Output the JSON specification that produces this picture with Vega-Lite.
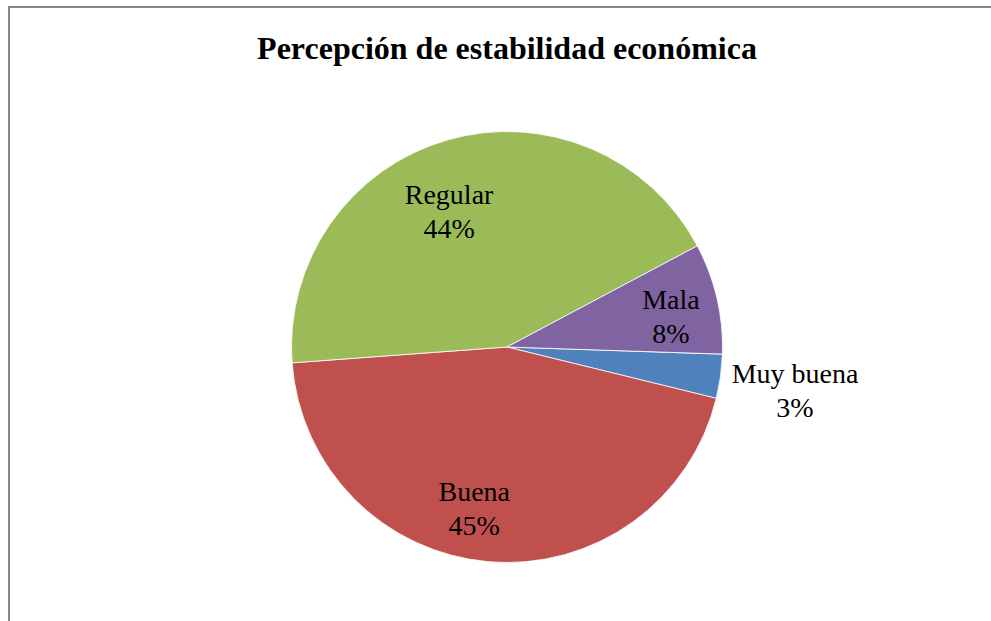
{
  "$schema": "https://vega.github.io/schema/vega-lite/v6.json",
  "width": 996,
  "height": 680,
  "autosize": {"type": "none"},
  "padding": {"left": 9, "top": 7, "right": -14, "bottom": -66},
  "background": "white",
  "view": {"stroke": "#878787", "strokeWidth": 2},
  "title": {
    "text": "Percepción de estabilidad económica",
    "font": "Liberation Serif",
    "fontSize": 32,
    "fontWeight": "bold",
    "color": "black",
    "anchor": "middle",
    "frame": "group",
    "baseline": "alphabetic",
    "offset": -84
  },
  "data": {
    "values": [
      {"categoria": "Muy buena", "porcentaje": 3.3, "etiqueta": "Muy buena\n3%", "orden": 1},
      {"categoria": "Buena", "porcentaje": 45.0, "etiqueta": "Buena\n45%", "orden": 2},
      {"categoria": "Regular", "porcentaje": 43.4, "etiqueta": "Regular\n44%", "orden": 3},
      {"categoria": "Mala", "porcentaje": 8.3, "etiqueta": "Mala\n8%", "orden": 4}
    ]
  },
  "encoding": {
    "theta": {"field": "porcentaje", "type": "quantitative", "stack": true, "scale": {"range": [1.604, 7.887]}},
    "order": {"field": "orden", "type": "quantitative"}
  },
  "layer": [
    {
      "mark": {"type": "arc", "outerRadius": 215.5, "stroke": "white", "strokeWidth": 0.8},
      "encoding": {
        "color": {
          "field": "categoria",
          "type": "nominal",
          "scale": {"domain": ["Muy buena", "Buena", "Regular", "Mala"], "range": ["#4F81BD", "#C0504D", "#9BBB59", "#8064A2"]},
          "legend": null
        }
      }
    },
    {
      "mark": {"type": "text", "radius": 146, "thetaOffset": -0.127, "dy": -17, "font": "Liberation Serif", "fontSize": 28, "lineBreak": "\n", "lineHeight": 34, "baseline": "middle", "align": "center"},
      "encoding": {
        "text": {"condition": {"test": "datum.categoria === 'Regular'", "field": "etiqueta"}, "value": ""},
        "color": {"value": "black"}
      }
    },
    {
      "mark": {"type": "text", "radius": 166, "thetaOffset": 0.115, "dy": -17, "font": "Liberation Serif", "fontSize": 28, "lineBreak": "\n", "lineHeight": 34, "baseline": "middle", "align": "center"},
      "encoding": {
        "text": {"condition": {"test": "datum.categoria === 'Buena'", "field": "etiqueta"}, "value": ""},
        "color": {"value": "black"}
      }
    },
    {
      "mark": {"type": "text", "radius": 166.5, "thetaOffset": 0.052, "dy": -17, "font": "Liberation Serif", "fontSize": 28, "lineBreak": "\n", "lineHeight": 34, "baseline": "middle", "align": "center"},
      "encoding": {
        "text": {"condition": {"test": "datum.categoria === 'Mala'", "field": "etiqueta"}, "value": ""},
        "color": {"value": "black"}
      }
    },
    {
      "mark": {"type": "text", "radius": 291.5, "thetaOffset": 0.018, "dy": -17, "font": "Liberation Serif", "fontSize": 28, "lineBreak": "\n", "lineHeight": 34, "baseline": "middle", "align": "center"},
      "encoding": {
        "text": {"condition": {"test": "datum.categoria === 'Muy buena'", "field": "etiqueta"}, "value": ""},
        "color": {"value": "black"}
      }
    }
  ]
}
